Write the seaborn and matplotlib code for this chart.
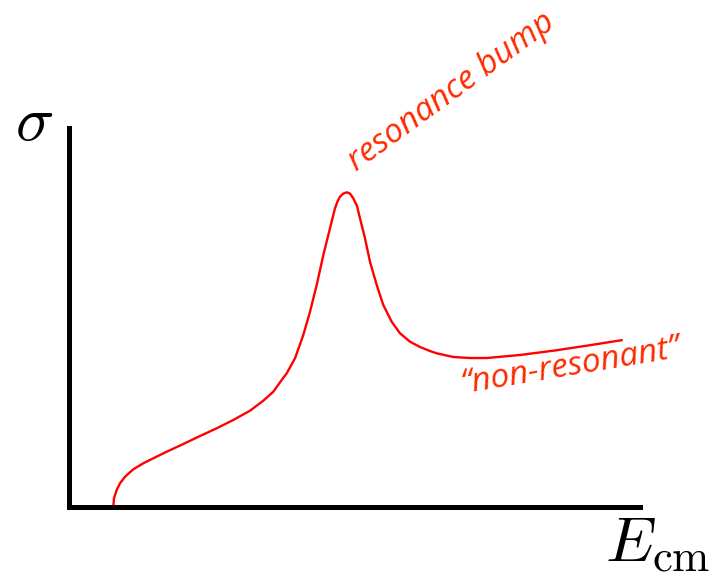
import matplotlib
matplotlib.use("Agg")
import matplotlib.pyplot as plt
import seaborn as sns
import pandas as pd

# Cross section vs. centre-of-mass energy (arbitrary units)
energy = [0.776, 0.788, 0.835, 0.893, 0.981, 1.126, 1.301, 1.476, 1.711, 2.002,
          2.294, 2.587, 2.877, 3.170, 3.403, 3.578, 3.725, 3.813, 3.958, 4.103,
          4.221, 4.338, 4.454, 4.571, 4.658, 4.705, 4.746, 4.799, 4.863, 4.921,
          4.979, 5.044, 5.096, 5.184, 5.271, 5.389, 5.504, 5.651, 5.797, 5.972,
          6.147, 6.322, 6.440, 6.730, 7.023, 7.315, 7.898, 8.482, 9.067, 9.697]
sigma = [0.000, 0.230, 0.449, 0.625, 0.799, 0.995, 1.153, 1.285, 1.459, 1.662,
         1.873, 2.077, 2.296, 2.541, 2.805, 3.042, 3.351, 3.528, 3.923, 4.538,
         5.153, 5.858, 6.649, 7.354, 7.881, 8.070, 8.187, 8.265, 8.303, 8.272,
         8.145, 7.942, 7.617, 7.090, 6.472, 5.858, 5.330, 4.889, 4.583, 4.362,
         4.222, 4.116, 4.055, 3.958, 3.931, 3.931, 4.011, 4.124, 4.256, 4.406]

labels = ["resonance bump", "\u201cnon-resonant\u201d"]

df = pd.DataFrame({"E": energy, "sigma": sigma})

sns.set_theme(style="white")
plt.rcParams["mathtext.fontset"] = "cm"

W, H = 711, 574
fig = plt.figure(figsize=(W / 100, H / 100), dpi=100)
ax = fig.add_axes([69 / W, (H - 507) / H, (640 - 69) / W, (507 - 128) / H])

sns.lineplot(data=df, x="E", y="sigma", ax=ax, color="#ff0000",
             linewidth=1.7, sort=False, clip_on=False,
             solid_joinstyle="round", solid_capstyle="butt")

ax.set_xlim(0, 10)
ax.set_ylim(0, 10)
ax.set_xticks([])
ax.set_yticks([])
ax.set_xlabel("")
ax.set_ylabel("")
for side in ("top", "right"):
    ax.spines[side].set_visible(False)
for side in ("left", "bottom"):
    ax.spines[side].set_linewidth(3.6)
    ax.spines[side].set_color("black")

text_color = "#ff2a00"
font = dict(family="Open Sans", style="italic", size=24, color=text_color)
ax.text(5.03, 8.84, labels[0], rotation=36, rotation_mode="anchor",
        ha="left", va="baseline", **font)
ax.text(6.90, 3.01, labels[1], rotation=9.5, rotation_mode="anchor",
        ha="left", va="baseline", **font)

fig.text(15 / W, (H - 140) / H, r"$\sigma$", fontsize=46, ha="left",
         va="baseline", color="black")
fig.text(605 / W, (H - 562) / H, r"$E_{\rm cm}$", fontsize=46, ha="left",
         va="baseline", color="black")

fig.savefig("out.png", dpi=100, facecolor="white")
